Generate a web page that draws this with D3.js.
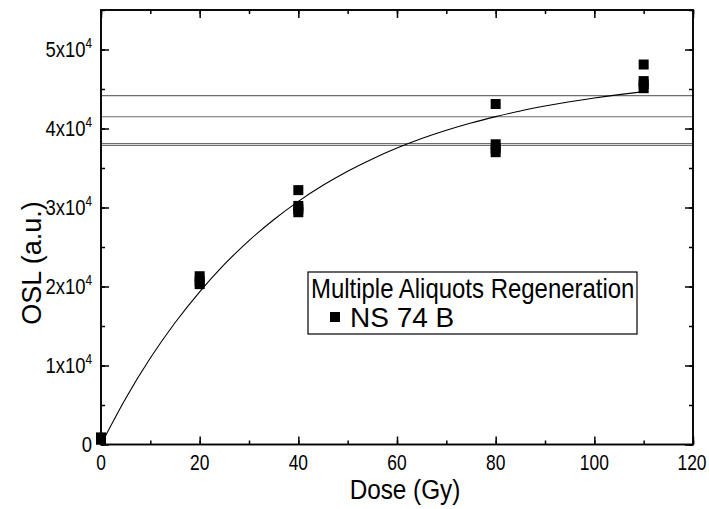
<!DOCTYPE html>
<html>
<head>
<meta charset="utf-8">
<script src="https://cdn.jsdelivr.net/npm/d3@7"></script>
<style>
    body { margin: 0; background: #fff; }
    svg { display: block; font-family: "Liberation Sans", Arial, sans-serif; }
</style>
</head>
<body>
<svg id="chart" width="709" height="509"></svg>
<script>
// measured points (Dose in Gy, OSL in a.u.)
var doses = [0, 0, 20, 20, 20, 40, 40, 40, 40, 80, 80, 80, 80, 110, 110, 110, 110];
var osl = [600, 900, 21300, 20700, 20300, 32200, 30200, 29800, 29400, 43100, 38000, 37500, 37000, 48100, 46000, 45600, 45100];

// fitted growth curve
var fitDose = [0, 5, 10, 15, 20, 25, 30, 35, 40, 45, 50, 55, 60, 65, 70, 75, 80, 85, 90, 95, 100, 105, 110];
var fitOsl = [0, 5830, 10940, 15410, 19330, 22790, 25810, 28450, 30780, 32810, 34590, 36150, 37520, 38730, 39780, 40700, 41500, 42220, 42840, 43390, 43870, 44290, 44660];

// natural signal levels (horizontal lines)
var naturalLevels = [44150, 41490, 38080, 37850];

var xTicks = [0, 20, 40, 60, 80, 100, 120];
var yTicks = [0, 10000, 20000, 30000, 40000, 50000];
var yTickMant = ['0', '1', '2', '3', '4', '5'];

var legendTitle = 'Multiple Aliquots Regeneration';
var seriesName = 'NS 74 B';

var svg = d3.select('#chart');
var pL = 101, pR = 693, pT = 10, pB = 444.5;

var x = d3.scaleLinear().domain([0, 120]).range([pL, pR]);
var y = d3.scaleLinear().domain([0, 55000]).range([pB, pT]);

// the original font is a bit narrower than Liberation Sans
function squeeze(sel, f){
    sel.each(function(){
        var w = this.getComputedTextLength();
        d3.select(this).attr('textLength', w * f).attr('lengthAdjust', 'spacingAndGlyphs');
    });
}

// horizontal lines first so the frame sits over them
svg.selectAll('.level')
    .data(naturalLevels)
    .enter()
    .append('line')
    .attr('class', 'level')
    .attr('x1', pL).attr('x2', pR)
    .attr('y1', function(d){ return y(d); })
    .attr('y2', function(d){ return y(d); })
    .attr('stroke', '#6e6e6e')
    .attr('stroke-width', 1.2);

// fit curve
var line = d3.line()
    .x(function(d, i){ return x(fitDose[i]); })
    .y(function(d){ return y(d); })
    .curve(d3.curveMonotoneX);

svg.append('path')
    .datum(fitOsl)
    .attr('d', line)
    .attr('fill', 'none')
    .attr('stroke', '#000')
    .attr('stroke-width', 1.1);

// axes with inward ticks on all four sides
var xMinor = d3.range(0, 121, 10);
var yMinor = d3.range(0, 55001, 5000);

function styleAxis(g){
    g.select('.domain').remove();
    g.selectAll('.tick line').attr('stroke', '#000').attr('stroke-width', 1.5);
}

function drawTicks(xv, yv, len){
    svg.append('g').attr('transform', 'translate(0,' + pB + ')')
        .call(d3.axisBottom(x).tickValues(xv).tickSize(-len).tickFormat('')).call(styleAxis);
    svg.append('g').attr('transform', 'translate(0,' + pT + ')')
        .call(d3.axisTop(x).tickValues(xv).tickSize(-len).tickFormat('')).call(styleAxis);
    svg.append('g').attr('transform', 'translate(' + pL + ',0)')
        .call(d3.axisLeft(y).tickValues(yv).tickSize(-len).tickFormat('')).call(styleAxis);
    svg.append('g').attr('transform', 'translate(' + pR + ',0)')
        .call(d3.axisRight(y).tickValues(yv).tickSize(-len).tickFormat('')).call(styleAxis);
}
drawTicks(xMinor, yMinor, 4);
drawTicks(xTicks, yTicks, 8);

// frame
svg.append('rect')
    .attr('x', pL).attr('y', pT)
    .attr('width', pR - pL).attr('height', pB - pT)
    .attr('fill', 'none')
    .attr('stroke', '#000')
    .attr('stroke-width', 1.9);

// tick labels, narrowed with a scale transform
svg.selectAll('.xlab')
    .data(xTicks)
    .enter()
    .append('g')
    .attr('class', 'xlab')
    .attr('transform', function(d){ return 'translate(' + Math.min(x(d), 692) + ',470) scale(0.79,1)'; })
    .append('text')
    .attr('text-anchor', 'middle')
    .attr('font-size', 22)
    .text(function(d){ return d; });

var ylabG = svg.append('g').attr('transform', 'translate(92,0) scale(0.84,1)');
var ylab = ylabG.selectAll('.ylab')
    .data(yTicks)
    .enter()
    .append('text')
    .attr('class', 'ylab')
    .attr('x', 0)
    .attr('y', function(d){ return y(d) + 8; })
    .attr('text-anchor', 'end')
    .attr('font-size', 22);

ylab.each(function(d, i){
    var t = d3.select(this);
    if (d === 0) { t.text('0'); return; }
    t.append('tspan').text(yTickMant[i] + 'x10');
    t.append('tspan').attr('font-size', 14).attr('dy', -9).text('4');
});

// axis titles
svg.append('text')
    .attr('x', 405).attr('y', 499)
    .attr('text-anchor', 'middle')
    .attr('font-size', 27)
    .text('Dose (Gy)')
    .call(squeeze, 0.9);

svg.append('text')
    .attr('transform', 'translate(41,263) rotate(-90)')
    .attr('text-anchor', 'middle')
    .attr('font-size', 27)
    .text('OSL (a.u.)');

// data squares
var sq = 10;
svg.selectAll('.pt')
    .data(osl)
    .enter()
    .append('rect')
    .attr('class', 'pt')
    .attr('x', function(d, i){ return x(doses[i]) - sq / 2; })
    .attr('y', function(d){ return y(d) - sq / 2; })
    .attr('width', sq).attr('height', sq)
    .attr('fill', '#000');

// legend
var lg = svg.append('g');
lg.append('rect')
    .attr('x', 308).attr('y', 272)
    .attr('width', 329).attr('height', 62)
    .attr('fill', '#fff')
    .attr('stroke', '#000')
    .attr('stroke-width', 1.2);
lg.append('text')
    .attr('x', 311).attr('y', 298)
    .attr('font-size', 28)
    .text(legendTitle)
    .call(squeeze, 0.855);
lg.append('rect')
    .attr('x', 330).attr('y', 312)
    .attr('width', 10).attr('height', 10)
    .attr('fill', '#000');
lg.append('text')
    .attr('x', 350).attr('y', 327)
    .attr('font-size', 28)
    .text(seriesName);
</script>
</body>
</html>
